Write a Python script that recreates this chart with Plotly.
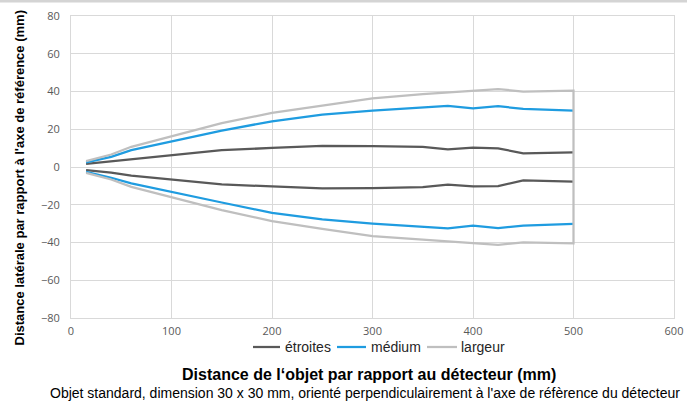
import plotly.graph_objects as go

x_vals = [15, 40, 60, 100, 150, 200, 250, 300, 350, 375, 400, 425, 450, 500]

etroites_haut = [1.7, 3.1, 4.1, 6.5, 8.9, 10.1, 11.2, 11.1, 10.7, 9.3, 10.3, 9.9, 7.2, 7.7]
etroites_bas = [-1.7, -3.0, -4.6, -6.6, -9.2, -10.3, -11.3, -11.2, -10.7, -9.4, -10.3, -10.1, -7.1, -7.8]
medium_haut = [2.4, 5.4, 8.9, 13.7, 19.3, 24.2, 27.8, 29.9, 31.5, 32.4, 31.0, 32.2, 30.8, 29.9]
medium_bas = [-2.6, -5.7, -8.7, -13.3, -18.8, -24.3, -27.8, -30.0, -31.6, -32.5, -31.1, -32.4, -31.0, -30.1]
largeur_haut = [3.1, 6.6, 10.7, 16.3, 23.2, 28.7, 32.6, 36.3, 38.6, 39.4, 40.4, 41.3, 40.0, 40.4]
largeur_bas = [-3.1, -6.6, -10.5, -15.8, -22.8, -28.7, -32.8, -36.6, -38.7, -39.4, -40.3, -41.2, -40.0, -40.5]

series_names = ["étroites", "médium", "largeur"]
x_ticks = [0, 100, 200, 300, 400, 500, 600]
y_ticks = [-80, -60, -40, -20, 0, 20, 40, 60, 80]

colors = ["#595959", "#1f9ce0", "#bfbfbf"]

fig = go.Figure()
# étroites & médium: upper and lower branches
for name, haut, bas, color in [(series_names[0], etroites_haut, etroites_bas, colors[0]),
                               (series_names[1], medium_haut, medium_bas, colors[1])]:
    for ys in (haut, bas):
        fig.add_trace(go.Scatter(x=x_vals, y=ys, mode="lines", name=name, legendgroup=name,
                                 showlegend=False, line=dict(color=color, width=2.25)))
# largeur: closed at x = 500
fig.add_trace(go.Scatter(x=x_vals + x_vals[::-1], y=largeur_haut + largeur_bas[::-1],
                         mode="lines", name=series_names[2], showlegend=False,
                         line=dict(color=colors[2], width=2.25)))

def px_x(p):
    return (p - 71) / 603

def px_y(p):
    return (318 - p) / 302

grid = "#d9d9d9"
tickfont = dict(family="Open Sans", size=11, color="#595959")

annotations = [
    dict(text="Distance de l‘objet par rapport au détecteur (mm)", xref="paper", yref="paper",
         x=0.494, y=px_y(374), xanchor="center", yanchor="middle", showarrow=False,
         font=dict(family="Liberation Sans", size=16, color="black", weight="bold")),
    dict(text="Objet standard, dimension 30 x 30 mm, orienté perpendiculairement à l'axe de réfèrence du détecteur",
         xref="paper", yref="paper", x=px_x(364.5), y=px_y(393), xanchor="center", yanchor="middle",
         showarrow=False, font=dict(family="Liberation Sans", size=14, color="black")),
    dict(text="Distance latérale par rapport à l'axe de référence (mm)", xref="paper", yref="paper",
         x=px_x(19), y=px_y(178.5), xanchor="center", yanchor="middle", textangle=-90, showarrow=False,
         font=dict(family="Liberation Sans", size=13, color="black", weight="bold")),
]

# manual legend
legend_lines = [(253, 280), (337, 366), (427, 457)]
legend_text_x = [283, 369, 459]
shapes = []
for (a, b), tx, name, color in zip(legend_lines, legend_text_x, series_names, colors):
    shapes.append(dict(type="line", xref="paper", yref="paper", x0=px_x(a), x1=px_x(b),
                       y0=px_y(347), y1=px_y(347), line=dict(color=color, width=2.25)))
    annotations.append(dict(text=name, xref="paper", yref="paper", x=px_x(tx), y=px_y(347.5),
                            xanchor="left", yanchor="middle", showarrow=False,
                            font=dict(family="Liberation Sans", size=14, color="#262626")))

shapes.append(dict(type="rect", xref="paper", yref="paper", x0=-0.2, x1=1.1,
                   y0=px_y(2.5), y1=px_y(-10), fillcolor="#d4d4d4", line=dict(width=0),
                   layer="below"))

fig.update_layout(
    width=687, height=401,
    margin=dict(l=71, r=13, t=16, b=83, autoexpand=False),
    paper_bgcolor="white", plot_bgcolor="white",
    showlegend=False,
    xaxis=dict(range=[0, 600], tickvals=x_ticks, showgrid=True, gridcolor=grid, gridwidth=1,
               zeroline=False, showline=True, mirror=True, linecolor=grid, ticks="",
               tickfont=tickfont, ticklabelstandoff=3, automargin=False),
    yaxis=dict(range=[-80, 80], tickvals=y_ticks, showgrid=True, gridcolor=grid, gridwidth=1,
               zeroline=False, showline=True, mirror=True, linecolor=grid, ticks="",
               tickfont=tickfont, ticklabelstandoff=8, automargin=False),
    annotations=annotations,
    shapes=shapes,
)

fig.write_html("out.html", config={"displayModeBar": False},
               post_script="document.body.style.margin='0';document.body.style.overflow='hidden';")
